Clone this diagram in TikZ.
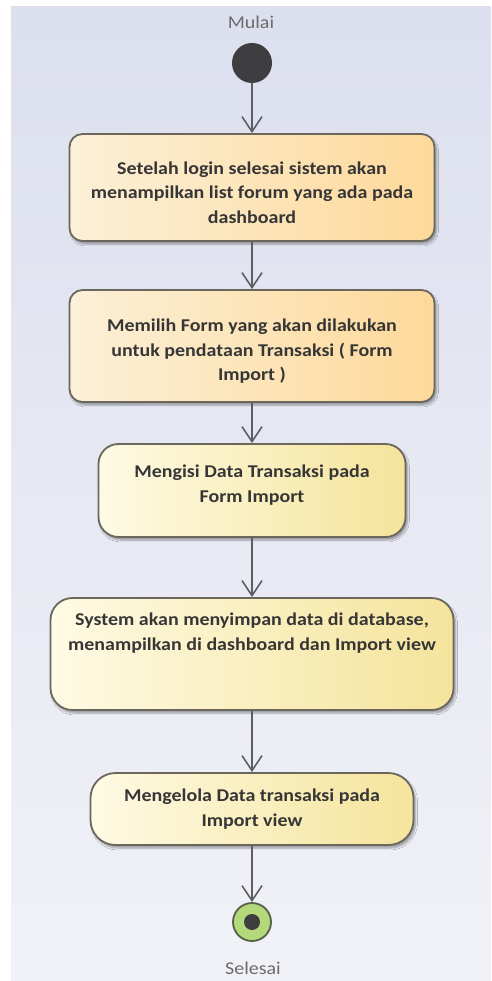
\documentclass[tikz,border=0pt]{standalone}
\usepackage{fontspec}
\setmainfont{Carlito}
\newfontfamily\wideface[FakeStretch=1.11]{Carlito}
\usetikzlibrary{arrows.meta,shadows.blur}

\definecolor{bgtop}{HTML}{DCDFEE}
\definecolor{bgbot}{HTML}{F1F2F7}
\definecolor{edge}{HTML}{6B675C}
\definecolor{flowc}{HTML}{5E5E62}
\definecolor{txt}{HTML}{363636}
\definecolor{orL}{HTML}{FCF0D8}
\definecolor{orR}{HTML}{FDD99A}
\definecolor{yeL}{HTML}{FEFAE4}
\definecolor{yeR}{HTML}{F5E49C}
\definecolor{startc}{HTML}{3E3E40}
\definecolor{ringc}{HTML}{B4D97A}
\definecolor{ringedge}{HTML}{56604A}

\tikzset{
  act/.style={draw=edge, line width=1.8pt, align=center, text=txt,
    font=\wideface\fontsize{18}{24.5}\selectfont\bfseries, inner sep=0pt,
    blur shadow={shadow xshift=2pt, shadow yshift=-3pt,
      shadow blur steps=6, shadow opacity=35}},
  actor/.style={act, left color=orL, right color=orR},
  actyel/.style={act, left color=yeL, right color=yeR},
  flow/.style={draw=flowc, line width=1.8pt,
    -{Straight Barb[length=15pt,width=20pt,line width=1.6pt]}},
  caption/.style={text=black!58, font=\wideface\fontsize{18}{20}\selectfont}
}

\begin{document}
\begin{tikzpicture}[x=1pt, y=-1pt]
  % canvas and background panel
  \useasboundingbox (0,0) rectangle (491,981);
  \shade[top color=bgtop, bottom color=bgbot] (11,7) rectangle (491,981);

  % start node
  \node[caption] (mulai) at (251,22) {Mulai};
  \node[circle, fill=startc, minimum size=40pt, inner sep=0pt] (start) at (252,63) {};

  % activities
  \node[actor, minimum width=365pt, minimum height=107pt, rounded corners=13pt]
    (b1) at (252,187.5)
    {\mbox{}\\[-2pt]Setelah login selesai sistem akan\\menampilkan list forum yang ada pada\\dashboard};
  \node[actor, minimum width=365pt, minimum height=112pt, rounded corners=13pt]
    (b2) at (252,346)
    {\mbox{}\\[-1pt]Memilih Form yang akan dilakukan\\untuk pendataan Transaksi ( Form\\Import )};
  \node[actyel, minimum width=307pt, minimum height=93pt, rounded corners=20pt]
    (b3) at (252,490.5)
    {Mengisi Data Transaksi pada\\Form Import\\[-10.5pt]\mbox{}};
  \node[actyel, minimum width=403pt, minimum height=112pt, rounded corners=22pt]
    (b4) at (252,654)
    {System akan menyimpan data di database,\\menampilkan di dashboard dan Import view\\[20pt]\mbox{}};
  \node[actyel, minimum width=323pt, minimum height=72pt, rounded corners=25pt]
    (b5) at (252,809)
    {Mengelola Data transaksi pada\\Import view};

  % final node
  \node[circle, fill=ringc, draw=ringedge, line width=1.8pt, minimum size=38pt,
    inner sep=0pt] (end) at (252,922) {};
  \node[circle, fill=startc, minimum size=16pt, inner sep=0pt] (enddot) at (end) {};
  \node[caption] (selesai) at (253,968) {Selesai};

  % control flow
  \draw[flow] (start) -- (b1);
  \draw[flow] (b1) -- (b2);
  \draw[flow] (b2) -- (b3);
  \draw[flow] (b3) -- (b4);
  \draw[flow] (b4) -- (b5);
  \draw[flow] (b5) -- (end);
\end{tikzpicture}
\end{document}
